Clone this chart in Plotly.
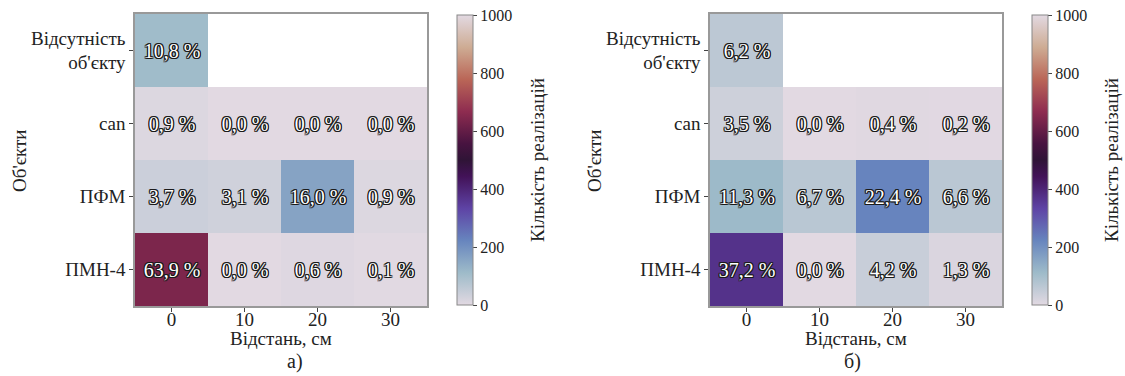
import plotly.graph_objects as go

# ---- data ----
distances = [0, 10, 20, 30]
objects = ["Відсутність<br>об'єкту", "can", "ПФМ", "ПМН-4"]
total = 1000
counts_a = [
    [108, None, None, None],
    [9, 0, 0, 0],
    [37, 31, 160, 9],
    [639, 0, 6, 1],
]
counts_b = [
    [62, None, None, None],
    [35, 0, 4, 2],
    [113, 67, 224, 66],
    [372, 0, 42, 13],
]
panel_labels = ["а)", "б)"]
x_title = "Відстань, см"
y_title = "Об'єкти"
cbar_title = "Кількість реалізацій"

twilight = [
    [0.0, "#e2d9e2"], [1/9, "#9ebbc9"], [2/9, "#6785be"], [3/9, "#5e43a5"],
    [4/9, "#421257"], [0.5, "#2f1436"], [5/9, "#471340"], [6/9, "#8e2c50"],
    [7/9, "#ba6657"], [8/9, "#ceac94"], [1.0, "#e2d9e2"],
]

FONT = "Liberation Serif"
W, H = 1125, 376


def pct_text(counts):
    out = []
    for row in counts:
        r = []
        for v in row:
            if v is None:
                r.append("")
            else:
                r.append(f"{v / total * 100:.1f}".replace(".", ",") + " %")
        out.append(r)
    return out


outline = ("-1px -1px 0 #1a1a1a, 1px -1px 0 #1a1a1a, -1px 1px 0 #1a1a1a, "
           "1px 1px 0 #1a1a1a, 0 1px 0 #1a1a1a, 0 -1px 0 #1a1a1a, "
           "1px 0 0 #1a1a1a, -1px 0 0 #1a1a1a")

fig = go.Figure()

panels = [
    dict(counts=counts_a, xd=(135, 427), cbx=457, xa="x", ya="y", ytx=19, cbt=538, lab=295),
    dict(counts=counts_b, xd=(710, 1002), cbx=1032, xa="x2", ya="y2", ytx=594, cbt=1112, lab=852),
]
y_dom = [(H - 306) / H, (H - 14) / H]

for i, p in enumerate(panels):
    fig.add_trace(go.Heatmap(
        z=p["counts"], x=distances, y=objects,
        text=pct_text(p["counts"]), texttemplate="%{text}",
        textfont=dict(family=FONT, size=20, color="white", shadow=outline),
        colorscale=twilight, zmin=0, zmax=1000,
        xaxis=p["xa"], yaxis=p["ya"], hoverongaps=False,
        colorbar=dict(
            x=p["cbx"] / W, xanchor="left", xpad=0, ypad=0, thickness=16,
            len=(305 - 15) / H, lenmode="fraction",
            y=(H - 160) / H, yanchor="middle",
            outlinecolor="#888", outlinewidth=1,
            ticks="outside", ticklen=4, tickcolor="#444",
            tickvals=[0, 200, 400, 600, 800, 1000],
            tickfont=dict(family=FONT, size=16, color="#222"),
        ),
    ))

axis_common = dict(
    showline=True, mirror=True, linecolor="#999", linewidth=1.5,
    ticks="outside", ticklen=4, tickcolor="#444", showgrid=False, zeroline=False,
)

layout = dict(
    width=W, height=H, margin=dict(l=0, r=0, t=0, b=0),
    paper_bgcolor="white", plot_bgcolor="white",
    font=dict(family=FONT, color="#222"),
    showlegend=False,
)
for i, p in enumerate(panels):
    sfx = "" if i == 0 else "2"
    layout["xaxis" + sfx] = dict(
        domain=[p["xd"][0] / W, p["xd"][1] / W], anchor="y" + sfx,
        tickvals=distances, range=[-5, 35], ticklabelstandoff=-9,
        tickfont=dict(family=FONT, size=19, color="#222"), **axis_common)
    layout["yaxis" + sfx] = dict(
        domain=y_dom, anchor="x" + sfx, autorange="reversed", type="category",
        tickfont=dict(family=FONT, size=19, color="#222"), **axis_common)

fig.update_layout(**layout)

ann = []
common_ann = dict(xref="paper", yref="paper", showarrow=False,
                  xanchor="center", yanchor="middle")
for i, (p, lab) in enumerate(zip(panels, panel_labels)):
    cx = (p["xd"][0] + p["xd"][1]) / 2
    ann.append(dict(text=x_title, x=cx / W, y=(H - 338) / H,
                    font=dict(family=FONT, size=19, color="#222"), **common_ann))
    ann.append(dict(text=y_title, x=p["ytx"] / W, y=(H - 161) / H, textangle=-90,
                    font=dict(family=FONT, size=19, color="#222"), **common_ann))
    ann.append(dict(text=cbar_title, x=p["cbt"] / W, y=(H - 160) / H, textangle=-90,
                    font=dict(family=FONT, size=19, color="#222"), **common_ann))
    ann.append(dict(text=lab, x=p["lab"] / W, y=(H - 361) / H,
                    font=dict(family=FONT, size=20, color="#222"), **common_ann))
fig.update_layout(annotations=ann)

fig.write_html("out.html")
